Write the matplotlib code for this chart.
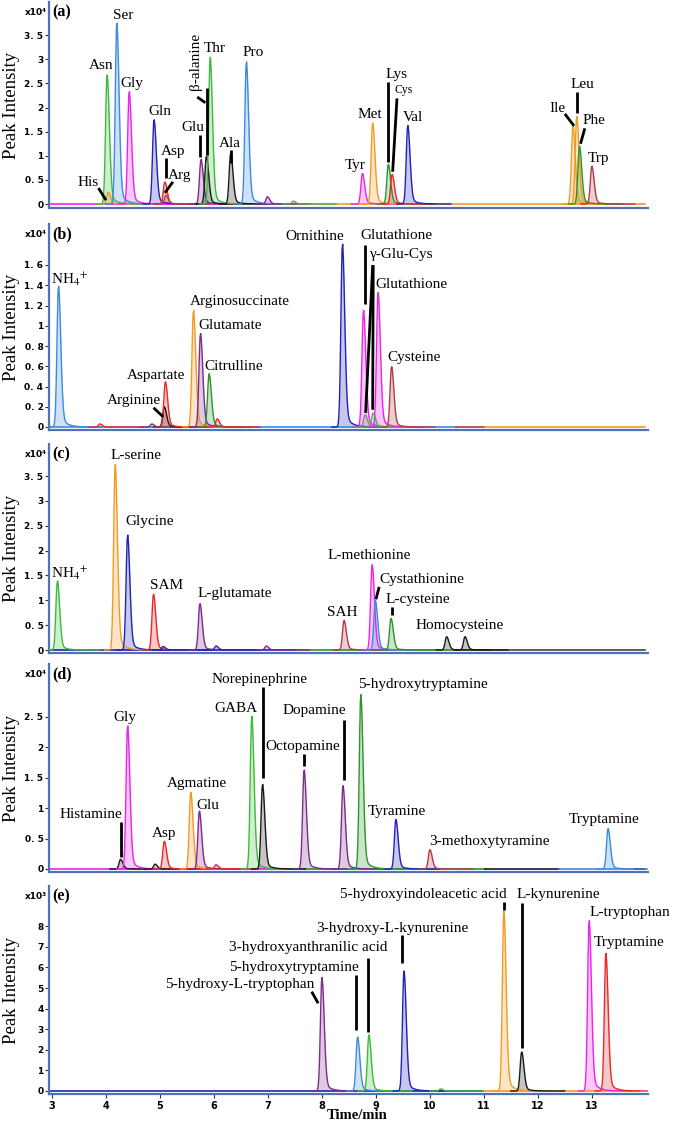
import matplotlib

matplotlib.use("Agg")

import matplotlib.pyplot as plt
import numpy as np

plt.rcParams["font.family"] = ["Liberation Serif", "DejaVu Serif"]
plt.rcParams["mathtext.fontset"] = "stix"

GREEN = "#3cbc3c"
DKGREEN = "#2a962a"
LTBLUE = "#3d8be0"
DKBLUE = "#2222b4"
MAGENTA = "#ee22ee"
RED = "#e82828"
PURPLE = "#7d2c8c"
BLACK = "#1a1a1a"
ORANGE = "#f39a24"
BROWN = "#b23c44"
GREY = "#888888"
AXIS = "#4f72b8"

# ---------------- panel (a): amino acids ----------------
A_RT = [4.04, 4.02, 4.20, 4.43, 4.89, 5.09, 5.11, 5.76, 5.86, 5.93, 6.31, 6.60,
        6.99, 7.47, 8.75, 8.94, 9.23, 9.30, 9.59, 12.65, 12.72, 12.77, 13.00]
A_HEIGHT = [0.25, 2.70, 3.78, 2.35, 1.76, 0.46, 0.18, 0.93, 1.00, 3.07, 1.06, 2.97,
            0.15, 0.06, 0.64, 1.69, 0.83, 0.62, 1.64, 1.62, 1.83, 1.21, 0.79]
A_COLOR = [ORANGE, GREEN, LTBLUE, MAGENTA, DKBLUE, RED, BROWN, PURPLE, BLACK, GREEN,
           BLACK, LTBLUE, PURPLE, GREEN, MAGENTA, ORANGE, DKGREEN, RED, DKBLUE,
           ORANGE, ORANGE, DKGREEN, BROWN]
A_LABELS = ["His", "Asn", "Ser", "Gly", "Gln", "Asp", "Arg", "Glu", "β-alanine", "Thr",
            "Ala", "Pro", "Tyr", "Met", "Lys", "Cys", "Val", "Ile", "Leu", "Phe", "Trp"]
A_LABEL_X = [3.67, 3.91, 4.32, 4.48, 4.99, 5.24, 5.36, 5.60, 5.65, 6.02, 6.29, 6.73,
             8.61, 8.89, 9.39, 9.51, 9.69, 12.36, 12.82, 13.04, 13.12]
A_LABEL_Y = [0.44, 2.88, 3.92, 2.49, 1.92, 1.09, 0.59, 1.59, 2.95, 3.23, 1.25, 3.14,
             0.80, 1.85, 2.68, 2.37, 1.79, 1.99, 2.47, 1.74, 0.95]
A_LEADERS = [(3.86, 0.33, 4.00, 0.08), (5.11, 0.95, 5.11, 0.54), (5.24, 0.46, 5.09, 0.23),
             (5.75, 1.43, 5.75, 0.98), (5.69, 2.22, 5.84, 2.10), (5.865, 2.41, 5.865, 1.02),
             (6.31, 1.12, 6.31, 0.85), (9.22, 2.54, 9.22, 0.88), (9.39, 2.19, 9.31, 0.67),
             (12.72, 2.33, 12.72, 1.88), (12.50, 1.87, 12.67, 1.62), (12.87, 1.57, 12.79, 1.25)]
A_BASE = [(2.97, 7.45, MAGENTA), (7.45, 13.98, ORANGE)]

# ---------------- panel (b): urea cycle / glutathione ----------------
B_RT = [3.12, 3.89, 4.85, 5.08, 5.10, 5.62, 5.75, 5.91, 6.06, 8.38, 8.77, 8.80,
        8.95, 9.04, 9.29]
B_HEIGHT = [1.40, 0.03, 0.03, 0.20, 0.45, 1.16, 0.93, 0.53, 0.08, 1.82, 1.16, 0.12,
            0.14, 1.34, 0.60]
B_COLOR = [LTBLUE, RED, PURPLE, BLACK, RED, ORANGE, PURPLE, DKGREEN, RED, DKBLUE,
           MAGENTA, GREY, GREEN, MAGENTA, BROWN]
B_LABELS = ["NH$_{4}{}^{+}$", "Aspartate", "Arginine", "Arginosuccinate", "Glutamate",
            "Citrulline", "Ornithine", "Glutathione", "γ-Glu-Cys", "Glutathione", "Cysteine"]
B_LABEL_X = [3.32, 4.93, 4.52, 6.47, 6.30, 6.36, 7.87, 9.38, 9.48, 9.66, 9.71]
B_LABEL_Y = [1.46, 0.51, 0.26, 1.24, 1.00, 0.60, 1.88, 1.89, 1.70, 1.41, 0.69]
B_LEADERS = [(4.88, 0.19, 5.06, 0.10), (8.79, 1.80, 8.79, 1.21),
             (8.94, 1.60, 8.81, 0.14), (8.95, 1.60, 8.94, 0.17)]
B_BASE = [(2.97, 10.49, LTBLUE), (10.49, 11.02, BROWN), (11.02, 13.98, ORANGE)]

# ---------------- panel (c): methionine cycle ----------------
C_RT = [3.10, 4.17, 4.40, 4.88, 5.06, 5.74, 6.04, 6.97, 8.41, 8.93, 8.99, 9.28,
        10.31, 10.65]
C_HEIGHT = [1.40, 3.76, 2.33, 1.13, 0.07, 0.94, 0.08, 0.08, 0.60, 1.73, 1.00, 0.64,
            0.27, 0.27]
C_COLOR = [GREEN, ORANGE, DKBLUE, RED, DKBLUE, PURPLE, DKBLUE, PURPLE, BROWN, MAGENTA,
           LTBLUE, DKGREEN, BLACK, BLACK]
C_LABELS = ["NH$_{4}{}^{+}$", "L-serine", "Glycine", "SAM", "L-glutamate", "SAH",
            "L-methionine", "Cystathionine", "L-cysteine", "Homocysteine"]
C_LABEL_X = [3.33, 4.56, 4.80, 5.12, 6.39, 8.38, 8.87, 9.85, 9.78, 10.56]
C_LABEL_Y = [1.54, 3.92, 2.58, 1.29, 1.14, 0.75, 1.91, 1.41, 1.01, 0.50]
C_LEADERS = [(9.06, 1.27, 9.00, 1.02), (9.29, 0.87, 9.29, 0.70)]
C_BASE = [(2.97, 7.53, DKBLUE), (7.53, 11.02, DKGREEN), (11.02, 13.98, "#444444")]

# ---------------- panel (d): neurotransmitters ----------------
D_RT = [4.27, 4.40, 4.91, 5.08, 5.57, 5.73, 6.04, 6.70, 6.90, 7.67, 8.39, 8.72,
        9.37, 10.00, 13.30]
D_HEIGHT = [0.16, 2.37, 0.08, 0.46, 1.27, 0.96, 0.07, 2.53, 1.40, 1.64, 1.38, 2.89,
            0.82, 0.32, 0.67]
D_COLOR = [BLACK, MAGENTA, BLACK, RED, ORANGE, PURPLE, RED, GREEN, BLACK, PURPLE,
           PURPLE, DKGREEN, DKBLUE, BROWN, LTBLUE]
D_LABELS = ["Histamine", "Gly", "Asp", "Agmatine", "Glu", "GABA", "Norepinephrine",
            "Octopamine", "Dopamine", "5-hydroxytryptamine", "Tyramine",
            "3-methoxytyramine", "Tryptamine"]
D_LABEL_X = [3.72, 4.34, 5.07, 5.69, 5.89, 6.40, 6.84, 7.64, 7.86, 9.88, 9.38, 11.10, 13.22]
D_LABEL_Y = [0.90, 2.50, 0.59, 1.41, 1.04, 2.64, 3.12, 2.02, 2.60, 3.04, 0.95, 0.46, 0.81]
D_LEADERS = [(4.27, 0.78, 4.27, 0.20), (6.90, 3.00, 6.90, 1.49),
             (7.67, 1.89, 7.67, 1.69), (8.41, 2.45, 8.41, 1.46)]
D_BASE = [(2.97, 7.53, MAGENTA), (7.53, 11.02, DKGREEN), (11.02, 12.40, BLACK),
          (12.40, 13.80, LTBLUE), (13.80, 13.98, BLACK)]

# ---------------- panel (e): tryptophan metabolites (x10^3) ----------------
E_RT = [8.00, 8.66, 8.87, 9.52, 10.20, 11.37, 11.70, 12.95, 13.26]
E_HEIGHT = [5.55, 2.64, 2.75, 5.87, 0.10, 8.79, 1.91, 8.33, 6.73]
E_COLOR = [PURPLE, LTBLUE, GREEN, DKBLUE, GREEN, ORANGE, BLACK, MAGENTA, RED]
E_LABELS = ["5-hydroxy-L-tryptophan", "5-hydroxytryptamine", "3-hydroxyanthranilic acid",
            "3-hydroxy-L-kynurenine", "5-hydroxyindoleacetic acid", "L-kynurenine",
            "L-tryptophan", "Tryptamine"]
E_LABEL_X = [6.47, 7.49, 7.75, 9.30, 9.88, 12.38, 13.71, 13.69]
E_LABEL_Y = [5.19, 6.00, 6.96, 7.90, 9.52, 9.52, 8.68, 7.22]
E_LEADERS = [(7.81, 4.82, 7.93, 4.26), (8.64, 5.63, 8.64, 2.96), (8.86, 6.46, 8.86, 2.88),
             (9.49, 7.57, 9.49, 6.21), (11.38, 9.19, 11.38, 8.79), (11.70, 9.11, 11.70, 2.07)]
E_BASE = [(2.97, 10.98, DKBLUE), (10.98, 13.90, ORANGE)]

Y_TICKS_A = [0, 0.5, 1, 1.5, 2, 2.5, 3, 3.5]
Y_TICKS_B = [0, 0.2, 0.4, 0.6, 0.8, 1, 1.2, 1.4, 1.6]
Y_TICKS_D = [0, 0.5, 1, 1.5, 2, 2.5]
Y_TICKS_E = [0, 1, 2, 3, 4, 5, 6, 7, 8]
X_TICKS = [3, 4, 5, 6, 7, 8, 9, 10, 11, 12, 13]

# layout in pixels of the 675 x 1123 canvas
W, H = 675, 1123
X_LEFT, X_RIGHT = 49, 648
XLIM = (2.944, 14.04)


def tick_text(v):
    s = f"{v:g}"
    return s.replace(".", ". ")


def peak(t0, h):
    t = t0 + np.arange(-0.2, 0.8, 0.012)
    d = t - t0
    g = np.where(d < 0, np.exp(-0.5 * (d / 0.028) ** 2), np.exp(-0.5 * (d / 0.042) ** 2))
    tail = np.where(d < 0, g, np.exp(-np.clip(d, 0, None) / 0.11))
    return t, h * (0.9 * g + 0.1 * tail)


def draw_panel(ax, tag, mult, rt, height, color, labels, lx, ly, leaders, base,
               yticks, small=()):
    for t0, t1, c in base:
        ax.plot([t0, t1], [0, 0], color=c, lw=1.2, zorder=2)
    for t0, h, c in zip(rt, height, color):
        t, y = peak(t0, h)
        ax.fill_between(t, 0, y, color=c, alpha=0.25, lw=0, zorder=1)
        ax.plot(t, y, color=c, lw=1.0, zorder=3)
    for x1, y1, x2, y2 in leaders:
        ax.plot([x1, x2], [y1, y2], color="black", lw=2.0, solid_capstyle="butt", zorder=5)
    for name, x, y in zip(labels, lx, ly):
        rot = 90 if name == "β-alanine" else 0
        size = 8.5 if name in small else 11
        ax.text(x, y, name, ha="center", va="center", fontsize=size, rotation=rot,
                zorder=6, clip_on=False)

    ax.set_xlim(*XLIM)
    ax.set_yticks(yticks)
    ax.set_yticklabels([tick_text(v) for v in yticks], fontsize=6.5, fontweight="bold",
                       family="DejaVu Sans")
    ax.tick_params(axis="y", length=3, width=0.8, pad=1, color="#333333")
    for side in ("top", "right"):
        ax.spines[side].set_visible(False)
    for side in ("left", "bottom"):
        ax.spines[side].set_color(AXIS)
        ax.spines[side].set_linewidth(1.6)
    ax.text(-0.004, 0.948, f"x10{mult}", transform=ax.transAxes, ha="right", va="center",
            fontsize=6.5, fontweight="bold", family="DejaVu Sans")
    ax.text(0.006, 0.948, f"({tag})", transform=ax.transAxes, ha="left", va="center",
            fontsize=11.5, fontweight="bold")
    ax.text(-0.062, 0.5, "Peak Intensity", transform=ax.transAxes, rotation=90,
            ha="center", va="center", fontsize=13.5)


fig = plt.figure(figsize=(W / 100, H / 100), dpi=100)

# (top px, bottom px, value-0 px, px per unit)
PANELS = [
    ("a", "⁴", A_RT, A_HEIGHT, A_COLOR, A_LABELS, A_LABEL_X, A_LABEL_Y, A_LEADERS, A_BASE,
     Y_TICKS_A, (2, 208, 204, 48.2)),
    ("b", "⁴", B_RT, B_HEIGHT, B_COLOR, B_LABELS, B_LABEL_X, B_LABEL_Y, B_LEADERS, B_BASE,
     Y_TICKS_B, (224, 430, 427, 101.25)),
    ("c", "⁴", C_RT, C_HEIGHT, C_COLOR, C_LABELS, C_LABEL_X, C_LABEL_Y, C_LEADERS, C_BASE,
     Y_TICKS_A, (444, 653, 650, 49.7)),
    ("d", "⁴", D_RT, D_HEIGHT, D_COLOR, D_LABELS, D_LABEL_X, D_LABEL_Y, D_LEADERS, D_BASE,
     Y_TICKS_D, (664, 872, 869, 60.8)),
    ("e", "³", E_RT, E_HEIGHT, E_COLOR, E_LABELS, E_LABEL_X, E_LABEL_Y, E_LEADERS, E_BASE,
     Y_TICKS_E, (886, 1094, 1091, 20.6)),
]

axes = []
for tag, mult, rt, hh, cc, lab, lx, ly, lead, base, yt, (top, bot, zero, scale) in PANELS:
    ax = fig.add_axes([X_LEFT / W, (H - bot) / H, (X_RIGHT - X_LEFT) / W, (bot - top) / H])
    ax.set_ylim((zero - bot) / scale, (zero - top) / scale)
    draw_panel(ax, tag, mult, rt, hh, cc, lab, lx, ly, lead, base, yt, small=("Cys",))
    if tag == "e":
        ax.set_xticks(X_TICKS)
        ax.set_xticklabels([str(v) for v in X_TICKS], fontsize=7, fontweight="bold",
                           family="DejaVu Sans")
        ax.tick_params(axis="x", length=3, width=0.8, pad=2, color="#333333")
        ax.text(0.514, -0.105, "Time/min", transform=ax.transAxes, ha="center", va="center",
                fontsize=10.5, fontweight="bold")
    else:
        ax.set_xticks([])
    axes.append(ax)

fig.savefig("out.png", dpi=100)
